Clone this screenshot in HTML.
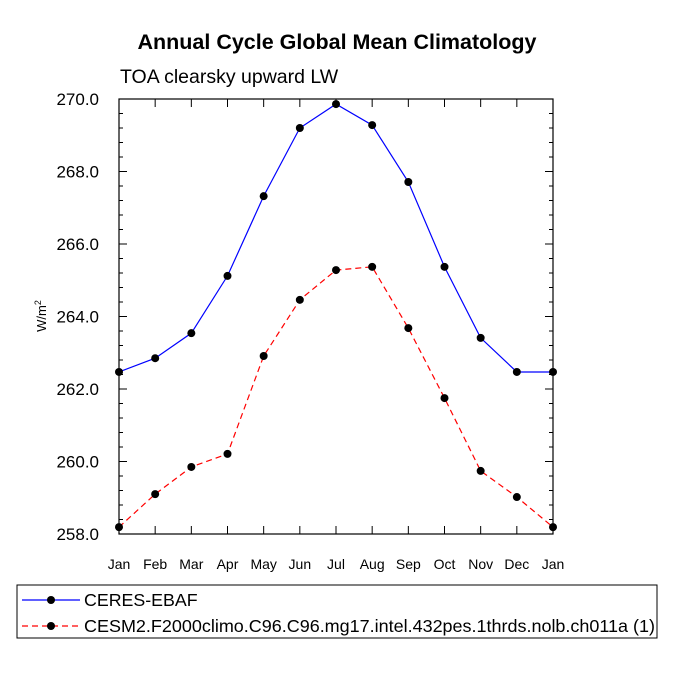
<!DOCTYPE html>
<html><head><meta charset="utf-8"><style>
body{margin:0;background:#fff;}
svg text{font-family:"Liberation Sans",Arial,sans-serif;fill:#000;}
</style></head><body>
<svg id="chart" width="675" height="675" viewBox="0 0 675 675" xmlns="http://www.w3.org/2000/svg">
<text x="337" y="49" text-anchor="middle" font-size="21.5" font-weight="bold">Annual Cycle Global Mean Climatology</text>
<text x="120" y="83" font-size="19.5">TOA clearsky upward LW</text>
<text transform="translate(46,316) rotate(-90)" text-anchor="middle" font-size="13">W/m<tspan dy="-5" font-size="9">2</tspan></text>
<g id="axes"></g>
<g id="series"></g>
<g>
<rect x="17" y="585" width="640" height="53" fill="none" stroke="#000" stroke-width="1"/>
<g>
<line x1="22" y1="600" x2="80" y2="600" stroke="#0000ff" stroke-width="1.2"/>
<circle cx="51" cy="600" r="4" fill="#000"/>
<text x="84" y="606" font-size="17.8">CERES-EBAF</text>
</g>
<g>
<line x1="22" y1="626" x2="80" y2="626" stroke="#ff0000" stroke-width="1.2" stroke-dasharray="6,4"/>
<circle cx="51" cy="626" r="4" fill="#000"/>
<text x="84" y="632" font-size="17.8" textLength="571" lengthAdjust="spacingAndGlyphs">CESM2.F2000climo.C96.C96.mg17.intel.432pes.1thrds.nolb.ch011a (1)</text>
</g>
</g>
</svg>
<script>
const months=["Jan","Feb","Mar","Apr","May","Jun","Jul","Aug","Sep","Oct","Nov","Dec","Jan"];
const ceresValues=[262.47,262.85,263.54,265.12,267.32,269.2,269.86,269.28,267.71,265.37,263.41,262.47,262.47];
const cesmValues=[258.19,259.1,259.85,260.21,262.91,264.46,265.28,265.37,263.68,261.75,259.74,259.02,258.19];
const yTicks=[258,260,262,264,266,268,270];
const NS="http://www.w3.org/2000/svg";
const L=119,R=553,T=99,B=534,yMin=258,yMax=270;
const xs=i=>L+i*(R-L)/(months.length-1);
const ys=v=>B-(v-yMin)/(yMax-yMin)*(B-T);
function mk(tag,attrs,parent){const e=document.createElementNS(NS,tag);for(const k in attrs)e.setAttribute(k,attrs[k]);parent.appendChild(e);return e;}
const ax=document.getElementById('axes');
const frame=mk('rect',{x:L,y:T,width:R-L,height:B-T,fill:'none',stroke:'#000','stroke-width':1.2},ax);


months.forEach((m,i)=>{
  const x=xs(i);
  mk('line',{x1:x,y1:B,x2:x,y2:B-8,stroke:'#000'},ax);
  mk('line',{x1:x,y1:T,x2:x,y2:T+8,stroke:'#000'},ax);
  const t=mk('text',{x:x,y:B+35,'text-anchor':'middle','font-size':14},ax);
  t.textContent=m;
  
  
});
for(let v=yMin;v<=yMax+1e-6;v+=0.4){
  const y=ys(v);
  mk('line',{x1:L,y1:y,x2:L+4,y2:y,stroke:'#000'},ax);
  mk('line',{x1:R,y1:y,x2:R-4,y2:y,stroke:'#000'},ax);
}
yTicks.forEach(v=>{
  const y=ys(v);
  mk('line',{x1:L,y1:y,x2:L+8,y2:y,stroke:'#000'},ax);
  mk('line',{x1:R,y1:y,x2:R-8,y2:y,stroke:'#000'},ax);
  const t=mk('text',{x:L-20,y:y+6,'text-anchor':'end','font-size':17},ax);
  t.textContent=v.toFixed(1);
  
  
});
const sg=document.getElementById('series');
function drawSeries(vals,color,dash,name){
  const g=mk('g',{},sg);
  
  
  const p=mk('polyline',{points:vals.map((v,i)=>xs(i)+','+ys(v)).join(' '),fill:'none',stroke:color,'stroke-width':1.2},g);
  if(dash)p.setAttribute('stroke-dasharray',dash);
  vals.forEach((v,i)=>{
    const c=mk('circle',{cx:xs(i),cy:ys(v),r:4,fill:'#000'},g);
    
    
  });
}
drawSeries(ceresValues,'#0000ff',null,'series-ceres-ebaf');
drawSeries(cesmValues,'#ff0000','6,4','series-cesm2');
</script>
</body></html>
